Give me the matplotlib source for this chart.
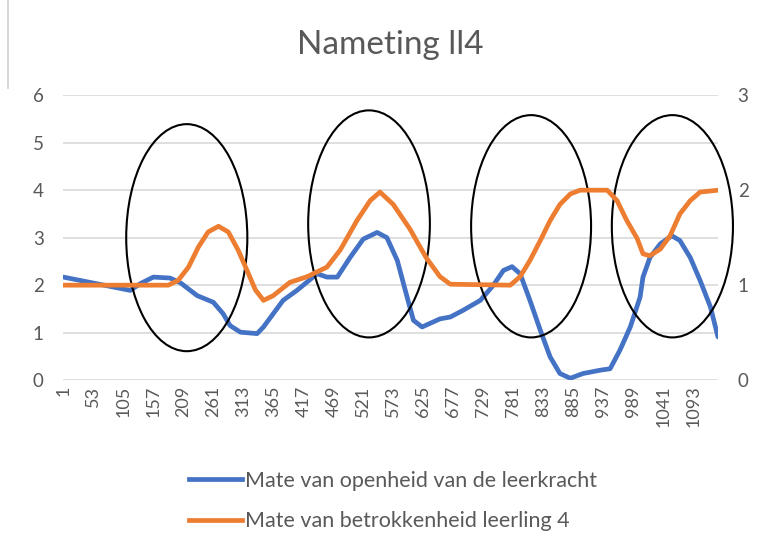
import numpy as np
import matplotlib.pyplot as plt
from matplotlib.patches import Ellipse
from matplotlib.lines import Line2D

n_points = 1136
tick_labels = list(range(1, 1094, 52))

blue_x = [1, 59, 117, 134, 157, 186, 204, 233, 261, 278, 290, 308, 337, 348,
          365, 382, 406, 441, 458, 476, 498, 521, 545, 562, 580, 597, 608, 623,
          654, 672, 694, 724, 746, 764, 779, 793, 810, 828, 845, 862, 880, 902,
          932, 949, 966, 984, 1001, 1006, 1018, 1036, 1056, 1070, 1088, 1105,
          1123, 1136]
blue_y = [2.17, 2.03, 1.89, 2.03, 2.17, 2.15, 2.05, 1.78, 1.64, 1.40, 1.15,
          1.01, 0.98, 1.12, 1.40, 1.68, 1.89, 2.24, 2.17, 2.17, 2.58, 2.97,
          3.11, 3.00, 2.52, 1.75, 1.26, 1.12, 1.29, 1.33, 1.47, 1.68, 1.99,
          2.31, 2.39, 2.24, 1.68, 1.05, 0.49, 0.14, 0.04, 0.14, 0.21, 0.24,
          0.63, 1.12, 1.75, 2.17, 2.58, 2.87, 3.04, 2.94, 2.58, 2.10, 1.54,
          0.91]

orange_x = [1, 183, 200, 218, 235, 252, 270, 287, 304, 322, 334, 348, 365,
            394, 424, 458, 481, 510, 533, 550, 573, 602, 630, 654, 672, 776,
            793, 810, 828, 845, 862, 880, 897, 944, 961, 978, 996, 1006, 1018,
            1036, 1053, 1070, 1088, 1105, 1136]
orange_y = [1.0, 1.0, 1.05, 1.19, 1.40, 1.56, 1.62, 1.56, 1.37, 1.12, 0.95,
            0.84, 0.89, 1.03, 1.09, 1.19, 1.37, 1.68, 1.89, 1.98, 1.85, 1.59,
            1.29, 1.09, 1.01, 1.0, 1.09, 1.26, 1.47, 1.68, 1.85, 1.96, 2.0,
            2.0, 1.89, 1.68, 1.49, 1.33, 1.31, 1.38, 1.52, 1.75, 1.89, 1.98,
            2.0]

# hand-drawn circles (centre x, centre y on left axis, width, height)
circles = [(215, 3.0, 210, 4.78), (531, 3.29, 211, 4.78),
           (812, 3.24, 208, 4.68), (1057, 3.24, 210, 4.68)]

blue = '#4472C4'
orange = '#ED7D31'
grey = '#595959'
plt.rcParams['font.family'] = ['Lato', 'DejaVu Sans']

fig = plt.figure(figsize=(7.69, 5.47), dpi=100)
ax = fig.add_axes([0.082, 0.305, 0.852, 0.521])
ax2 = ax.twinx()

ax.plot(blue_x, blue_y, color=blue, lw=3.4, solid_capstyle='round', zorder=3)
ax2.plot(orange_x, orange_y, color=orange, lw=3.4, solid_capstyle='round', zorder=3)

ax.set_xlim(0.5, n_points + 0.5)
ax.set_ylim(0, 6)
ax2.set_ylim(0, 3)
ax.set_yticks(range(0, 7))
ax2.set_yticks(range(0, 4))
ax.set_xticks(tick_labels)
ax.set_xticklabels([str(t) for t in tick_labels], rotation=90)
ax.grid(axis='y', color='#D9D9D9', lw=1.2)
ax.set_axisbelow(True)
for a in (ax, ax2):
    for s in a.spines.values():
        s.set_visible(False)
    a.tick_params(length=0, labelsize=13.5, colors=grey)
ax.tick_params(axis='y', pad=14)
ax2.tick_params(axis='y', pad=14)
ax.tick_params(axis='x', pad=4, labelsize=13)

for cx, cy, w, h in circles:
    e = Ellipse((cx, cy), w, h, fill=False, edgecolor='black', lw=1.5,
                clip_on=False, zorder=5)
    ax.add_patch(e)

fig.text(0.508, 0.918, 'Nameting ll4', ha='center', va='center', fontsize=24,
         color=grey)

handles = [Line2D([], [], color=blue, lw=3.4),
           Line2D([], [], color=orange, lw=3.4)]
fig.legend(handles, ['Mate van openheid van de leerkracht',
                     'Mate van betrokkenheid leerling 4'],
           loc='center left', bbox_to_anchor=(0.220, 0.084), frameon=False,
           fontsize=15.5, labelcolor=grey, handlelength=2.5, handletextpad=0.1,
           labelspacing=0.95)

# partial chart-area border at top left
fig.add_artist(Line2D([0.011, 0.011], [1.0, 0.84], color='#D0D0D0', lw=1.2))

fig.savefig('out.png', dpi=100)
